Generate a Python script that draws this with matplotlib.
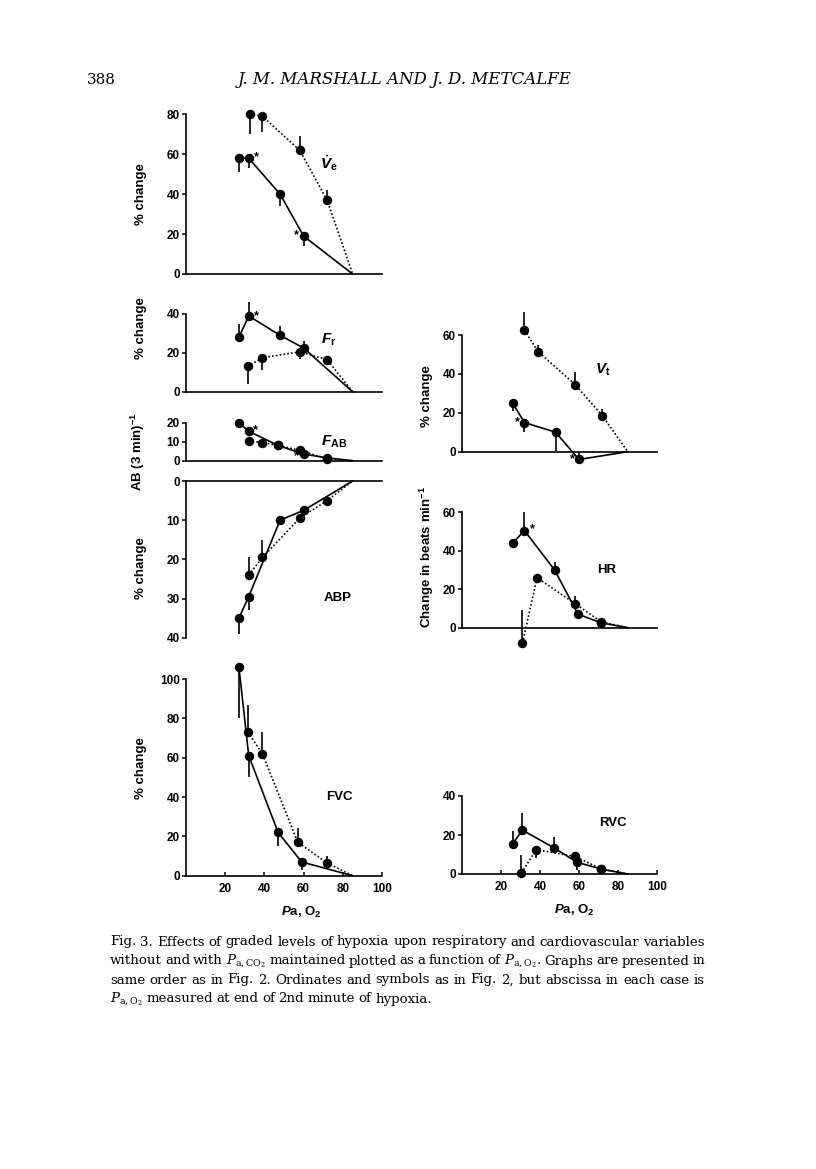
import matplotlib
matplotlib.use('Agg')
import matplotlib.pyplot as plt
import numpy as np

plt.rcParams['font.family'] = ['Liberation Sans', 'DejaVu Sans']
plt.rcParams['font.weight'] = 'normal'
plt.rcParams['mathtext.fontset'] = 'custom'
plt.rcParams['mathtext.rm'] = 'Liberation Sans:bold'
plt.rcParams['mathtext.it'] = 'Liberation Sans:italic:bold'
plt.rcParams['mathtext.bf'] = 'Liberation Sans:bold'

# ---------------- data (Pa,O2 in mmHg; responses) ----------------
# Ve (% change)
ve_solid_x = [27, 32, 48, 60, 85]
ve_solid_y = [58, 58, 40, 19, 0]
ve_solid_err = [51, 53, 34, 14, np.nan]
ve_dot_x = [32.5, 39, 58, 72, 85]
ve_dot_y = [80, 79, 62, 37, 0]
ve_dot_err = [70, 71, 69, 42, np.nan]

# Fr (% change)
fr_solid_x = [27, 32, 48, 60, 85]
fr_solid_y = [28, 39, 29, 22.5, 0]
fr_solid_err = [35, 46, 34, 26, np.nan]
fr_dot_x = [31.5, 39, 58, 72, 85]
fr_dot_y = [13, 17.5, 20.5, 16.5, 0]
fr_dot_err = [4, 11, 17, np.nan, np.nan]

# FAB (AB (3 min)^-1)
fab_solid_x = [27, 32, 47, 60, 72, 85]
fab_solid_y = [20, 15.5, 8, 3.5, 1.5, 0]
fab_dot_x = [32, 39, 47, 58, 72, 85]
fab_dot_y = [10.5, 9.5, 8, 5.5, 1, 0]

# ABP (% change, fall)
abp_solid_x = [27, 32, 48, 60, 85]
abp_solid_y = [35, 29.5, 10, 7.5, 0]
abp_solid_err = [39, 33, np.nan, np.nan, np.nan]
abp_dot_x = [32, 39, 58, 72, 85]
abp_dot_y = [24, 19.5, 9.5, 5, 0]
abp_dot_err = [19.5, 15, 10.8, np.nan, np.nan]

# FVC (% change)
fvc_solid_x = [27, 32, 47, 59, 85]
fvc_solid_y = [106, 61, 22, 7, 0]
fvc_solid_err = [80, 50, 15, 3, np.nan]
fvc_dot_x = [31.5, 39, 57, 72, 85]
fvc_dot_y = [73, 62, 17, 6.5, 0]
fvc_dot_err = [87, 73, 24, 10, np.nan]

# Vt (% change)
vt_solid_x = [26, 32, 48, 60, 85]
vt_solid_y = [25, 15, 10, -4, 0]
vt_solid_err = [21, 10, 0.5, 0, np.nan]
vt_dot_x = [32, 39, 58, 72, 85]
vt_dot_y = [62.5, 51.5, 34.5, 18.5, 0]
vt_dot_err = [72, 55, 41, 22, np.nan]

# HR (change in beats/min)
hr_solid_x = [26, 32, 47.5, 59.5, 71.5, 85]
hr_solid_y = [44, 50.5, 30, 7, 2.5, 0]
hr_solid_err = [np.nan, 60, 34, np.nan, np.nan, np.nan]
hr_dot_x = [31, 38.5, 58, 71.5, 85]
hr_dot_y = [-8, 26, 12.5, 3, 0]
hr_dot_err = [9, np.nan, 16.5, 0, np.nan]

# RVC (% change)
rvc_solid_x = [26, 31, 47, 59, 71.5, 85]
rvc_solid_y = [15.5, 22.5, 13.5, 6, 2.5, 0]
rvc_solid_err = [22, 31.5, 19, 2, np.nan, np.nan]
rvc_dot_x = [30.5, 38, 58, 71.5, 85]
rvc_dot_y = [0.5, 12.5, 9, 2.5, 0]
rvc_dot_err = [10, 8, np.nan, np.nan, np.nan]

x_ticks = [20, 40, 60, 80, 100]

caption_lines = [
    "Fig. 3. Effects of graded levels of hypoxia upon respiratory and cardiovascular variables",
    r"without and with $P_{\mathrm{a,CO_2}}$ maintained plotted as a function of $P_{\mathrm{a,O_2}}$. Graphs are presented in",
    "same order as in Fig. 2. Ordinates and symbols as in Fig. 2, but abscissa in each case is",
    r"$P_{\mathrm{a,O_2}}$ measured at end of 2nd minute of hypoxia.",
]

# ---------------- figure ----------------
W, H = 816, 1169
fig = plt.figure(figsize=(W / 100, H / 100), dpi=100)
fig.patch.set_facecolor('white')

LEFT = (186, 382)
RIGHT = (462, 657)
TICK_FS = 8.5
LAB_FS = 9.5


def make_ax(xpx, ypx_a, ypx_b, ylim, yticks, top_axis=False, xlabels=False):
    bottom_px = max(ypx_a, ypx_b)
    top_px = min(ypx_a, ypx_b)
    ax = fig.add_axes([xpx[0] / W, 1 - bottom_px / H,
                       (xpx[1] - xpx[0]) / W, (bottom_px - top_px) / H])
    ax.set_facecolor('none')
    ax.set_xlim(0, 100)
    ax.set_ylim(*ylim)
    ax.spines['right'].set_visible(False)
    if top_axis:
        ax.spines['bottom'].set_visible(False)
    else:
        ax.spines['top'].set_visible(False)
    for s in ax.spines.values():
        s.set_linewidth(1.2)
    ax.set_yticks(yticks)
    ax.tick_params(axis='y', direction='out', length=3, width=1.1,
                   labelsize=TICK_FS, pad=1.5)
    if xlabels:
        ax.set_xticks(x_ticks)
        ax.tick_params(axis='x', direction='in', length=3, width=1.1,
                       labelsize=TICK_FS, pad=5)
    else:
        ax.set_xticks([])
    for lab in ax.get_yticklabels() + ax.get_xticklabels():
        lab.set_fontweight('bold')
    return ax


def series(ax, x, y, err=None, dotted=False):
    ls = (0, (1, 1.3)) if dotted else '-'
    n = len(x)
    ax.plot(x, y, color='k', lw=1.2, ls=ls,
            marker='o', ms=5.8, markevery=list(range(n - 1)),
            clip_on=False, zorder=3)
    if err is not None:
        xs = [a for a, e in zip(x, err) if not np.isnan(e)]
        y0 = [b for b, e in zip(y, err) if not np.isnan(e)]
        y1 = [e for e in err if not np.isnan(e)]
        ax.vlines(xs, y0, y1, color='k', lw=1.2, clip_on=False, zorder=3)


def star(ax, x, y, dx, dy):
    ax.annotate('*', (x, y), xytext=(dx, dy), textcoords='offset pixels',
                ha='center', va='center', fontsize=9, weight='bold',
                annotation_clip=False)


def ftext(xp, yp, s, **kw):
    fig.text(xp / W, 1 - yp / H, s, **kw)


# Ve
ax = make_ax(LEFT, 274, 114.3, (0, 80), [0, 20, 40, 60, 80])
series(ax, ve_solid_x, ve_solid_y, ve_solid_err)
series(ax, ve_dot_x, ve_dot_y, ve_dot_err, dotted=True)
star(ax, ve_solid_x[1], ve_solid_y[1], 8, 1)
star(ax, ve_solid_x[3], ve_solid_y[3], -7, 1)

# Fr
ax = make_ax(LEFT, 391.7, 314, (0, 40), [0, 20, 40])
series(ax, fr_solid_x, fr_solid_y, fr_solid_err)
series(ax, fr_dot_x, fr_dot_y, fr_dot_err, dotted=True)
star(ax, fr_solid_x[1], fr_solid_y[1], 8, 0)

# FAB
ax = make_ax(LEFT, 460.7, 422.7, (0, 20), [0, 10, 20])
series(ax, fab_solid_x, fab_solid_y)
series(ax, fab_dot_x, fab_dot_y, dotted=True)
star(ax, fab_solid_x[1], fab_solid_y[1], 7, 1)
star(ax, fab_solid_x[3], fab_solid_y[3], -7, -2)

# ABP (inverted, axis on top)
ax = make_ax(LEFT, 637.7, 481, (40, 0), [0, 10, 20, 30, 40], top_axis=True)
series(ax, abp_solid_x, abp_solid_y, abp_solid_err)
series(ax, abp_dot_x, abp_dot_y, abp_dot_err, dotted=True)

# FVC
ax = make_ax(LEFT, 875.7, 679, (0, 100), [0, 20, 40, 60, 80, 100], xlabels=True)
series(ax, fvc_solid_x, fvc_solid_y, fvc_solid_err)
series(ax, fvc_dot_x, fvc_dot_y, fvc_dot_err, dotted=True)

# Vt
ax = make_ax(RIGHT, 451.7, 335, (0, 60), [0, 20, 40, 60])
series(ax, vt_solid_x, vt_solid_y, vt_solid_err)
series(ax, vt_dot_x, vt_dot_y, vt_dot_err, dotted=True)
star(ax, vt_solid_x[1], vt_solid_y[1], -7, 0)
star(ax, vt_solid_x[3], vt_solid_y[3], -7, 0)

# HR
ax = make_ax(RIGHT, 627.7, 512.3, (0, 60), [0, 20, 40, 60])
series(ax, hr_solid_x, hr_solid_y, hr_solid_err)
series(ax, hr_dot_x, hr_dot_y, hr_dot_err, dotted=True)
star(ax, hr_solid_x[1], hr_solid_y[1], 8, 1)

# RVC
ax = make_ax(RIGHT, 874, 796, (0, 40), [0, 20, 40], xlabels=True)
series(ax, rvc_solid_x, rvc_solid_y, rvc_solid_err)
series(ax, rvc_dot_x, rvc_dot_y, rvc_dot_err, dotted=True)

BOLD = dict(weight='bold')
# panel labels
ftext(329, 163, r'$\dot{V}_{\mathrm{e}}$', ha='center', va='center', fontsize=11, **BOLD)
ftext(329, 340, r'$F_{\mathrm{r}}$', ha='center', va='center', fontsize=11, **BOLD)
ftext(334, 442, r'$F_{\mathrm{AB}}$', ha='center', va='center', fontsize=11, **BOLD)
ftext(338, 598, 'ABP', ha='center', va='center', fontsize=LAB_FS, **BOLD)
ftext(339, 797, 'FVC', ha='center', va='center', fontsize=LAB_FS, **BOLD)
ftext(603, 370, r'$V_{\mathrm{t}}$', ha='center', va='center', fontsize=11, **BOLD)
ftext(607, 570, 'HR', ha='center', va='center', fontsize=LAB_FS, **BOLD)
ftext(613, 823, 'RVC', ha='center', va='center', fontsize=LAB_FS, **BOLD)

# y labels
for (xp, yp, s) in [(141, 194, '% change'), (141, 328, '% change'),
                    (138, 452, r'AB (3 min)$^{-1}$'), (141, 568, '% change'),
                    (141, 768, '% change'), (427, 396, '% change'),
                    (427, 557, r'Change in beats min$^{-1}$')]:
    ftext(xp, yp, s, ha='center', va='center', rotation=90, fontsize=LAB_FS, **BOLD)

# x labels
ftext(301, 912, r'$P$a, O$_2$', ha='center', va='center', fontsize=LAB_FS, **BOLD)
ftext(574, 910, r'$P$a, O$_2$', ha='center', va='center', fontsize=LAB_FS, **BOLD)

# header
ftext(87, 80, '388', ha='left', va='center', fontsize=11, family='DejaVu Serif')
ftext(405, 80, 'J. M. MARSHALL AND J. D. METCALFE', ha='center', va='center',
      fontsize=12, family='DejaVu Serif', style='italic')

# caption (justified)
renderer = fig.canvas.get_renderer()
cap_x0, cap_x1 = 110, 705
cap_y = [942, 961, 980, 999]
for i, (line, yp) in enumerate(zip(caption_lines, cap_y)):
    words = line.split(' ')
    texts = [fig.text(0, 1 - yp / H, w, fontsize=9.6, family='DejaVu Serif',
                      math_fontfamily='dejavuserif',
                      va='center', ha='left')
             for w in words]
    widths = [t.get_window_extent(renderer).width for t in texts]
    if i < len(caption_lines) - 1:
        gap = (cap_x1 - cap_x0 - sum(widths)) / (len(words) - 1)
    else:
        gap = 3.5
    xp = cap_x0
    for t, wdt in zip(texts, widths):
        t.set_x(xp / W)
        xp += wdt + gap

fig.savefig('out.png', dpi=100, facecolor='white')
